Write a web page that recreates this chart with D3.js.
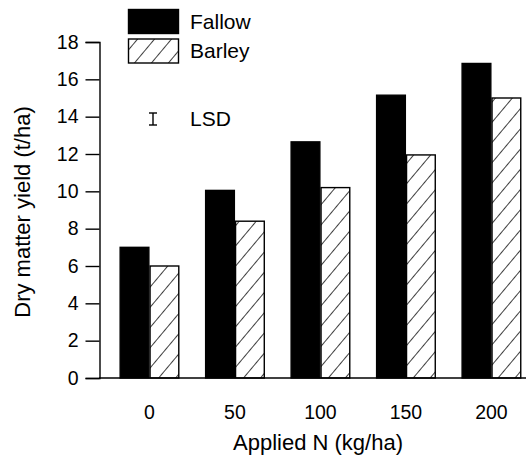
<!DOCTYPE html>
<html><head><meta charset="utf-8">
<script src="https://cdn.jsdelivr.net/npm/d3@7"></script>
<style>
html,body{margin:0;padding:0;background:#fff;}
svg{display:block;font-family:"Liberation Sans",Arial,Helvetica,sans-serif;}
</style></head>
<body>
<svg id="chart" width="526" height="458"></svg>
<script>
const categories = ["0", "50", "100", "150", "200"];
const seriesNames = ["Fallow", "Barley"];
const fallow = [7.0, 10.05, 12.65, 15.15, 16.85];
const barley = [6.0, 8.4, 10.2, 11.95, 15.0];
const yTicks = [0, 2, 4, 6, 8, 10, 12, 14, 16, 18];
const lsdLabel = "LSD";

const svg = d3.select("#chart");
const defs = svg.append("defs");
const pat = defs.append("pattern").attr("id","hatch").attr("patternUnits","userSpaceOnUse")
  .attr("width",13).attr("height",13).attr("patternTransform","rotate(40)");
pat.append("rect").attr("width",13).attr("height",13).attr("fill","#fff");
pat.append("line").attr("x1",0).attr("y1",0).attr("x2",0).attr("y2",13).attr("stroke","#000").attr("stroke-width",1.5);

const y = d3.scaleLinear().domain([0,18]).range([378,42]);
const x = d3.scaleBand().domain(categories).range([93.9,547]).paddingInner(0.3).paddingOuter(0.3);
const xs = d3.scaleBand().domain(seriesNames).range([0, x.bandwidth()]).padding(0);

// bars
const data = categories.map((c,i)=>({c, vals:[fallow[i], barley[i]]}));
const g = svg.append("g");
data.forEach(d=>{
  d.vals.forEach((v,j)=>{
    g.append("rect")
      .attr("x", x(d.c)+xs(seriesNames[j]) + 0.6)
      .attr("y", y(v))
      .attr("width", xs.bandwidth()-1.2)
      .attr("height", y(0)-y(v))
      .attr("fill", j===0 ? "#000" : "url(#hatch)")
      .attr("stroke","#000").attr("stroke-width",1.4);
  });
});

// y axis
const yAxis = d3.axisLeft(y).tickValues(yTicks).tickSize(14).tickPadding(7);
const ya = svg.append("g").attr("transform","translate(99.5,0)").call(yAxis);
ya.select(".domain").attr("stroke-width",1.4);
ya.selectAll(".tick line").attr("stroke-width",1.4);
ya.selectAll("text").attr("font-size",19.5).attr("fill","#000").style("font-family","inherit");

// x baseline
svg.append("line").attr("x1",99).attr("x2",526).attr("y1",y(0)).attr("y2",y(0))
  .attr("stroke","#000").attr("stroke-width",1.5);

// x tick labels
const xa = svg.append("g").attr("transform",`translate(0,${y(0)})`)
  .call(d3.axisBottom(x).tickSize(0).tickPadding(27));
xa.select(".domain").remove();
xa.selectAll("text").attr("font-size",19.5).attr("fill","#000").style("font-family","inherit");

// axis titles
svg.append("text").attr("x",318).attr("y",450).attr("text-anchor","middle")
  .attr("font-size",22).text("Applied N (kg/ha)");
svg.append("text").attr("transform","translate(30,212) rotate(-90)").attr("text-anchor","middle")
  .attr("font-size",22).text("Dry matter yield (t/ha)");

// legend
const leg = svg.append("g");
seriesNames.forEach((s,i)=>{
  leg.append("rect").attr("x",128.5).attr("y",9.5+i*29.5).attr("width",50).attr("height",24)
    .attr("fill", i===0 ? "#000" : "url(#hatch)").attr("stroke","#000").attr("stroke-width",1.4);
  leg.append("text").attr("x",190).attr("y",29+i*29).attr("font-size",21).text(s);
});

// LSD marker
const lsd = svg.append("g").attr("stroke","#000").attr("stroke-width",1.4);
lsd.append("line").attr("x1",153).attr("x2",153).attr("y1",113).attr("y2",125);
lsd.append("line").attr("x1",149).attr("x2",157).attr("y1",113).attr("y2",113);
lsd.append("line").attr("x1",149).attr("x2",157).attr("y1",125).attr("y2",125);
svg.append("text").attr("x",190).attr("y",126).attr("font-size",21).text(lsdLabel);
</script>
</body></html>
